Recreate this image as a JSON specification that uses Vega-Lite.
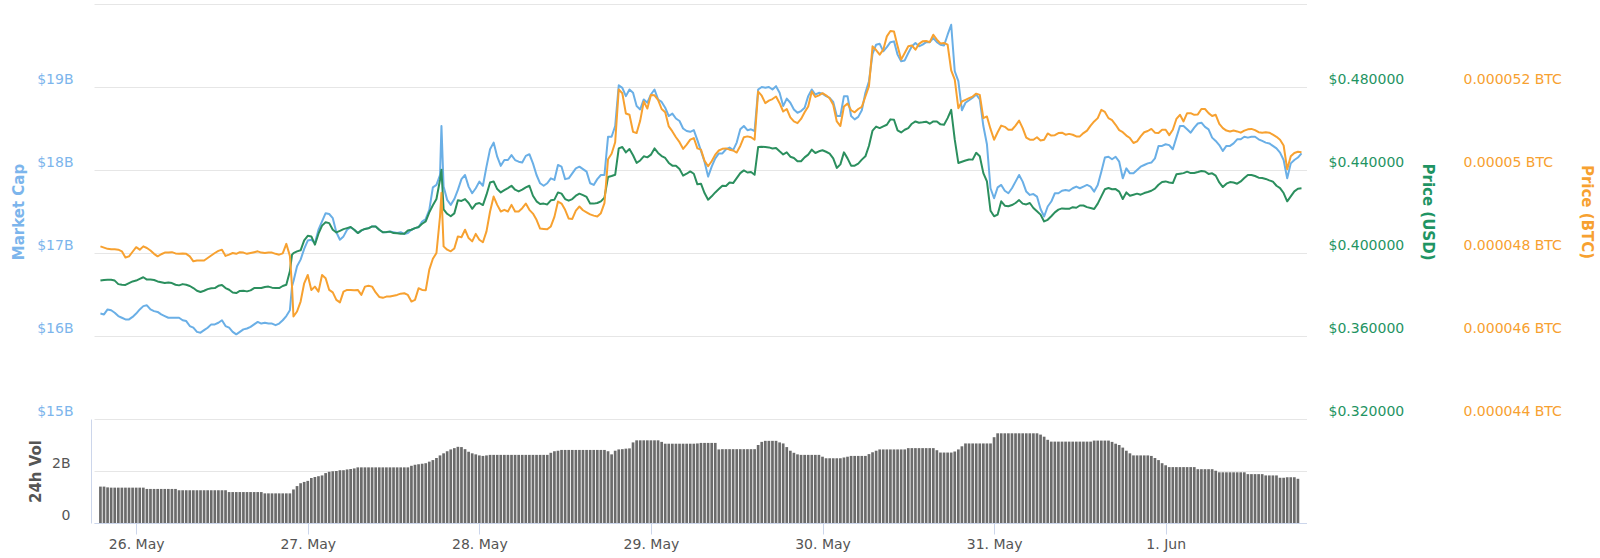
{
  "$schema": "https://vega.github.io/schema/vega-lite/v6.json",
  "width": 1212.5,
  "height": 519,
  "autosize": {"type": "none"},
  "padding": {"left": 94, "top": 4, "right": 293.5, "bottom": 35},
  "background": "white",
  "config": {"view": {"stroke": null}, "font": "DejaVu Sans"},
  "datasets": {
    "px": [
      {"t":"2019-05-25T19:00Z","mc":16.27,"usd":0.3867,"btc":0.00004816},
      {"t":"2019-05-25T19:30Z","mc":16.26,"usd":0.3870,"btc":0.00004813},
      {"t":"2019-05-25T20:00Z","mc":16.32,"usd":0.3871,"btc":0.00004810},
      {"t":"2019-05-25T20:30Z","mc":16.31,"usd":0.3871,"btc":0.00004809},
      {"t":"2019-05-25T21:00Z","mc":16.28,"usd":0.3867,"btc":0.00004809},
      {"t":"2019-05-25T21:30Z","mc":16.24,"usd":0.3850,"btc":0.00004808},
      {"t":"2019-05-25T22:00Z","mc":16.22,"usd":0.3847,"btc":0.00004804},
      {"t":"2019-05-25T22:30Z","mc":16.20,"usd":0.3846,"btc":0.00004789},
      {"t":"2019-05-25T23:00Z","mc":16.20,"usd":0.3855,"btc":0.00004792},
      {"t":"2019-05-25T23:30Z","mc":16.23,"usd":0.3863,"btc":0.00004803},
      {"t":"2019-05-26T00:00Z","mc":16.27,"usd":0.3867,"btc":0.00004814},
      {"t":"2019-05-26T00:30Z","mc":16.32,"usd":0.3875,"btc":0.00004808},
      {"t":"2019-05-26T01:00Z","mc":16.36,"usd":0.3883,"btc":0.00004816},
      {"t":"2019-05-26T01:30Z","mc":16.37,"usd":0.3872,"btc":0.00004812},
      {"t":"2019-05-26T02:00Z","mc":16.32,"usd":0.3872,"btc":0.00004806},
      {"t":"2019-05-26T02:30Z","mc":16.30,"usd":0.3870,"btc":0.00004798},
      {"t":"2019-05-26T03:00Z","mc":16.29,"usd":0.3863,"btc":0.00004792},
      {"t":"2019-05-26T03:30Z","mc":16.26,"usd":0.3859,"btc":0.00004797},
      {"t":"2019-05-26T04:00Z","mc":16.24,"usd":0.3855,"btc":0.00004801},
      {"t":"2019-05-26T04:30Z","mc":16.22,"usd":0.3858,"btc":0.00004801},
      {"t":"2019-05-26T05:00Z","mc":16.22,"usd":0.3855,"btc":0.00004802},
      {"t":"2019-05-26T05:30Z","mc":16.22,"usd":0.3847,"btc":0.00004799},
      {"t":"2019-05-26T06:00Z","mc":16.22,"usd":0.3844,"btc":0.00004798},
      {"t":"2019-05-26T06:30Z","mc":16.19,"usd":0.3850,"btc":0.00004799},
      {"t":"2019-05-26T07:00Z","mc":16.18,"usd":0.3847,"btc":0.00004798},
      {"t":"2019-05-26T07:30Z","mc":16.12,"usd":0.3841,"btc":0.00004792},
      {"t":"2019-05-26T08:00Z","mc":16.10,"usd":0.3831,"btc":0.00004780},
      {"t":"2019-05-26T08:30Z","mc":16.05,"usd":0.3818,"btc":0.00004782},
      {"t":"2019-05-26T09:00Z","mc":16.04,"usd":0.3812,"btc":0.00004782},
      {"t":"2019-05-26T09:30Z","mc":16.07,"usd":0.3818,"btc":0.00004782},
      {"t":"2019-05-26T10:00Z","mc":16.10,"usd":0.3826,"btc":0.00004788},
      {"t":"2019-05-26T10:30Z","mc":16.14,"usd":0.3830,"btc":0.00004794},
      {"t":"2019-05-26T11:00Z","mc":16.14,"usd":0.3831,"btc":0.00004800},
      {"t":"2019-05-26T11:30Z","mc":16.16,"usd":0.3842,"btc":0.00004805},
      {"t":"2019-05-26T12:00Z","mc":16.19,"usd":0.3846,"btc":0.00004808},
      {"t":"2019-05-26T12:30Z","mc":16.12,"usd":0.3831,"btc":0.00004793},
      {"t":"2019-05-26T13:00Z","mc":16.10,"usd":0.3823,"btc":0.00004796},
      {"t":"2019-05-26T13:30Z","mc":16.05,"usd":0.3810,"btc":0.00004800},
      {"t":"2019-05-26T14:00Z","mc":16.02,"usd":0.3807,"btc":0.00004798},
      {"t":"2019-05-26T14:30Z","mc":16.05,"usd":0.3817,"btc":0.00004802},
      {"t":"2019-05-26T15:00Z","mc":16.08,"usd":0.3818,"btc":0.00004801},
      {"t":"2019-05-26T15:30Z","mc":16.09,"usd":0.3815,"btc":0.00004798},
      {"t":"2019-05-26T16:00Z","mc":16.11,"usd":0.3820,"btc":0.00004800},
      {"t":"2019-05-26T16:30Z","mc":16.14,"usd":0.3831,"btc":0.00004802},
      {"t":"2019-05-26T17:00Z","mc":16.17,"usd":0.3831,"btc":0.00004804},
      {"t":"2019-05-26T17:30Z","mc":16.15,"usd":0.3831,"btc":0.00004801},
      {"t":"2019-05-26T18:00Z","mc":16.16,"usd":0.3836,"btc":0.00004800},
      {"t":"2019-05-26T18:30Z","mc":16.15,"usd":0.3838,"btc":0.00004801},
      {"t":"2019-05-26T19:00Z","mc":16.15,"usd":0.3833,"btc":0.00004801},
      {"t":"2019-05-26T19:30Z","mc":16.13,"usd":0.3831,"btc":0.00004798},
      {"t":"2019-05-26T20:00Z","mc":16.15,"usd":0.3831,"btc":0.00004796},
      {"t":"2019-05-26T20:30Z","mc":16.19,"usd":0.3841,"btc":0.00004799},
      {"t":"2019-05-26T21:00Z","mc":16.24,"usd":0.3847,"btc":0.00004822},
      {"t":"2019-05-26T21:30Z","mc":16.31,"usd":0.3912,"btc":0.00004793},
      {"t":"2019-05-26T21:48Z","mc":16.60,"usd":0.3992,"btc":0.00004719},
      {"t":"2019-05-26T22:00Z","mc":16.66,"usd":0.3999,"btc":0.00004647},
      {"t":"2019-05-26T22:30Z","mc":16.84,"usd":0.4008,"btc":0.00004659},
      {"t":"2019-05-26T23:00Z","mc":16.92,"usd":0.4013,"btc":0.00004683},
      {"t":"2019-05-26T23:30Z","mc":17.05,"usd":0.4061,"btc":0.00004727},
      {"t":"2019-05-27T00:00Z","mc":17.15,"usd":0.4083,"btc":0.00004747},
      {"t":"2019-05-27T00:30Z","mc":17.16,"usd":0.4080,"btc":0.00004711},
      {"t":"2019-05-27T01:00Z","mc":17.12,"usd":0.4040,"btc":0.00004719},
      {"t":"2019-05-27T01:30Z","mc":17.28,"usd":0.4093,"btc":0.00004707},
      {"t":"2019-05-27T02:00Z","mc":17.38,"usd":0.4132,"btc":0.00004747},
      {"t":"2019-05-27T02:30Z","mc":17.48,"usd":0.4148,"btc":0.00004739},
      {"t":"2019-05-27T03:00Z","mc":17.47,"usd":0.4144,"btc":0.00004711},
      {"t":"2019-05-27T03:30Z","mc":17.42,"usd":0.4112,"btc":0.00004705},
      {"t":"2019-05-27T04:00Z","mc":17.25,"usd":0.4099,"btc":0.00004687},
      {"t":"2019-05-27T04:30Z","mc":17.16,"usd":0.4107,"btc":0.00004681},
      {"t":"2019-05-27T05:00Z","mc":17.20,"usd":0.4115,"btc":0.00004707},
      {"t":"2019-05-27T05:30Z","mc":17.28,"usd":0.4120,"btc":0.00004711},
      {"t":"2019-05-27T06:00Z","mc":17.31,"usd":0.4125,"btc":0.00004711},
      {"t":"2019-05-27T06:30Z","mc":17.28,"usd":0.4112,"btc":0.00004710},
      {"t":"2019-05-27T07:00Z","mc":17.24,"usd":0.4096,"btc":0.00004711},
      {"t":"2019-05-27T07:30Z","mc":17.27,"usd":0.4109,"btc":0.00004699},
      {"t":"2019-05-27T08:00Z","mc":17.29,"usd":0.4116,"btc":0.00004719},
      {"t":"2019-05-27T08:30Z","mc":17.30,"usd":0.4119,"btc":0.00004721},
      {"t":"2019-05-27T09:00Z","mc":17.32,"usd":0.4128,"btc":0.00004719},
      {"t":"2019-05-27T09:30Z","mc":17.32,"usd":0.4128,"btc":0.00004705},
      {"t":"2019-05-27T10:00Z","mc":17.28,"usd":0.4112,"btc":0.00004694},
      {"t":"2019-05-27T10:30Z","mc":17.25,"usd":0.4100,"btc":0.00004692},
      {"t":"2019-05-27T11:00Z","mc":17.25,"usd":0.4101,"btc":0.00004695},
      {"t":"2019-05-27T11:30Z","mc":17.26,"usd":0.4103,"btc":0.00004695},
      {"t":"2019-05-27T12:00Z","mc":17.25,"usd":0.4096,"btc":0.00004697},
      {"t":"2019-05-27T12:30Z","mc":17.24,"usd":0.4095,"btc":0.00004699},
      {"t":"2019-05-27T13:00Z","mc":17.25,"usd":0.4093,"btc":0.00004702},
      {"t":"2019-05-27T13:30Z","mc":17.23,"usd":0.4093,"btc":0.00004703},
      {"t":"2019-05-27T14:00Z","mc":17.24,"usd":0.4108,"btc":0.00004699},
      {"t":"2019-05-27T14:30Z","mc":17.28,"usd":0.4112,"btc":0.00004683},
      {"t":"2019-05-27T15:00Z","mc":17.30,"usd":0.4120,"btc":0.00004687},
      {"t":"2019-05-27T15:30Z","mc":17.31,"usd":0.4125,"btc":0.00004715},
      {"t":"2019-05-27T16:00Z","mc":17.38,"usd":0.4141,"btc":0.00004711},
      {"t":"2019-05-27T16:30Z","mc":17.41,"usd":0.4152,"btc":0.00004710},
      {"t":"2019-05-27T17:00Z","mc":17.52,"usd":0.4196,"btc":0.00004760},
      {"t":"2019-05-27T17:30Z","mc":17.79,"usd":0.4230,"btc":0.00004786},
      {"t":"2019-05-27T18:00Z","mc":17.82,"usd":0.4260,"btc":0.00004800},
      {"t":"2019-05-27T18:30Z","mc":17.94,"usd":0.4353,"btc":0.00004888},
      {"t":"2019-05-27T18:42Z","mc":18.53,"usd":0.4401,"btc":0.00004945},
      {"t":"2019-05-27T19:00Z","mc":17.80,"usd":0.4210,"btc":0.00004816},
      {"t":"2019-05-27T19:30Z","mc":17.64,"usd":0.4189,"btc":0.00004808},
      {"t":"2019-05-27T20:00Z","mc":17.58,"usd":0.4177,"btc":0.00004804},
      {"t":"2019-05-27T20:30Z","mc":17.65,"usd":0.4191,"btc":0.00004811},
      {"t":"2019-05-27T21:00Z","mc":17.76,"usd":0.4254,"btc":0.00004840},
      {"t":"2019-05-27T21:30Z","mc":17.89,"usd":0.4251,"btc":0.00004838},
      {"t":"2019-05-27T22:00Z","mc":17.94,"usd":0.4260,"btc":0.00004856},
      {"t":"2019-05-27T22:30Z","mc":17.80,"usd":0.4241,"btc":0.00004836},
      {"t":"2019-05-27T23:00Z","mc":17.72,"usd":0.4213,"btc":0.00004828},
      {"t":"2019-05-27T23:30Z","mc":17.78,"usd":0.4236,"btc":0.00004846},
      {"t":"2019-05-28T00:00Z","mc":17.86,"usd":0.4241,"btc":0.00004832},
      {"t":"2019-05-28T00:30Z","mc":17.81,"usd":0.4231,"btc":0.00004826},
      {"t":"2019-05-28T01:00Z","mc":18.04,"usd":0.4281,"btc":0.00004852},
      {"t":"2019-05-28T01:30Z","mc":18.25,"usd":0.4340,"btc":0.00004900},
      {"t":"2019-05-28T02:00Z","mc":18.33,"usd":0.4345,"btc":0.00004936},
      {"t":"2019-05-28T02:30Z","mc":18.16,"usd":0.4308,"btc":0.00004916},
      {"t":"2019-05-28T03:00Z","mc":18.05,"usd":0.4292,"btc":0.00004900},
      {"t":"2019-05-28T03:30Z","mc":18.12,"usd":0.4303,"btc":0.00004904},
      {"t":"2019-05-28T04:00Z","mc":18.12,"usd":0.4313,"btc":0.00004900},
      {"t":"2019-05-28T04:30Z","mc":18.18,"usd":0.4324,"btc":0.00004916},
      {"t":"2019-05-28T05:00Z","mc":18.12,"usd":0.4305,"btc":0.00004900},
      {"t":"2019-05-28T05:30Z","mc":18.10,"usd":0.4297,"btc":0.00004900},
      {"t":"2019-05-28T06:00Z","mc":18.09,"usd":0.4305,"btc":0.00004908},
      {"t":"2019-05-28T06:30Z","mc":18.17,"usd":0.4316,"btc":0.00004919},
      {"t":"2019-05-28T07:00Z","mc":18.19,"usd":0.4324,"btc":0.00004904},
      {"t":"2019-05-28T07:30Z","mc":18.08,"usd":0.4276,"btc":0.00004895},
      {"t":"2019-05-28T08:00Z","mc":17.94,"usd":0.4249,"btc":0.00004880},
      {"t":"2019-05-28T08:30Z","mc":17.84,"usd":0.4236,"btc":0.00004859},
      {"t":"2019-05-28T09:00Z","mc":17.81,"usd":0.4238,"btc":0.00004858},
      {"t":"2019-05-28T09:30Z","mc":17.84,"usd":0.4234,"btc":0.00004857},
      {"t":"2019-05-28T10:00Z","mc":17.90,"usd":0.4254,"btc":0.00004864},
      {"t":"2019-05-28T10:30Z","mc":17.88,"usd":0.4257,"btc":0.00004887},
      {"t":"2019-05-28T11:00Z","mc":18.06,"usd":0.4292,"btc":0.00004924},
      {"t":"2019-05-28T11:30Z","mc":18.04,"usd":0.4286,"btc":0.00004919},
      {"t":"2019-05-28T12:00Z","mc":17.89,"usd":0.4260,"btc":0.00004904},
      {"t":"2019-05-28T12:30Z","mc":17.90,"usd":0.4252,"btc":0.00004883},
      {"t":"2019-05-28T13:00Z","mc":17.96,"usd":0.4260,"btc":0.00004882},
      {"t":"2019-05-28T13:30Z","mc":18.02,"usd":0.4276,"btc":0.00004902},
      {"t":"2019-05-28T14:00Z","mc":18.04,"usd":0.4286,"btc":0.00004912},
      {"t":"2019-05-28T14:30Z","mc":18.01,"usd":0.4279,"btc":0.00004903},
      {"t":"2019-05-28T15:00Z","mc":17.98,"usd":0.4270,"btc":0.00004898},
      {"t":"2019-05-28T15:30Z","mc":17.84,"usd":0.4238,"btc":0.00004893},
      {"t":"2019-05-28T16:00Z","mc":17.82,"usd":0.4238,"btc":0.00004890},
      {"t":"2019-05-28T16:30Z","mc":17.89,"usd":0.4241,"btc":0.00004888},
      {"t":"2019-05-28T17:00Z","mc":17.94,"usd":0.4249,"btc":0.00004896},
      {"t":"2019-05-28T17:30Z","mc":17.94,"usd":0.4267,"btc":0.00004920},
      {"t":"2019-05-28T18:00Z","mc":18.40,"usd":0.4366,"btc":0.00005026},
      {"t":"2019-05-28T18:30Z","mc":18.40,"usd":0.4371,"btc":0.00005039},
      {"t":"2019-05-28T19:00Z","mc":18.53,"usd":0.4377,"btc":0.00005067},
      {"t":"2019-05-28T19:30Z","mc":19.02,"usd":0.4504,"btc":0.00005194},
      {"t":"2019-05-28T20:00Z","mc":18.99,"usd":0.4511,"btc":0.00005185},
      {"t":"2019-05-28T20:30Z","mc":18.89,"usd":0.4485,"btc":0.00005136},
      {"t":"2019-05-28T21:00Z","mc":18.97,"usd":0.4501,"btc":0.00005133},
      {"t":"2019-05-28T21:30Z","mc":18.93,"usd":0.4471,"btc":0.00005092},
      {"t":"2019-05-28T22:00Z","mc":18.77,"usd":0.4434,"btc":0.00005089},
      {"t":"2019-05-28T22:30Z","mc":18.73,"usd":0.4446,"btc":0.00005119},
      {"t":"2019-05-28T23:00Z","mc":18.85,"usd":0.4466,"btc":0.00005165},
      {"t":"2019-05-28T23:30Z","mc":18.81,"usd":0.4461,"btc":0.00005148},
      {"t":"2019-05-29T00:00Z","mc":18.91,"usd":0.4474,"btc":0.00005181},
      {"t":"2019-05-29T00:30Z","mc":18.97,"usd":0.4504,"btc":0.00005180},
      {"t":"2019-05-29T01:00Z","mc":18.85,"usd":0.4482,"btc":0.00005169},
      {"t":"2019-05-29T01:30Z","mc":18.82,"usd":0.4467,"btc":0.00005147},
      {"t":"2019-05-29T02:00Z","mc":18.75,"usd":0.4458,"btc":0.00005139},
      {"t":"2019-05-29T02:30Z","mc":18.65,"usd":0.4434,"btc":0.00005105},
      {"t":"2019-05-29T03:00Z","mc":18.68,"usd":0.4421,"btc":0.00005093},
      {"t":"2019-05-29T03:30Z","mc":18.62,"usd":0.4421,"btc":0.00005079},
      {"t":"2019-05-29T04:00Z","mc":18.59,"usd":0.4405,"btc":0.00005067},
      {"t":"2019-05-29T04:30Z","mc":18.50,"usd":0.4373,"btc":0.00005051},
      {"t":"2019-05-29T05:00Z","mc":18.47,"usd":0.4382,"btc":0.00005061},
      {"t":"2019-05-29T05:30Z","mc":18.46,"usd":0.4393,"btc":0.00005073},
      {"t":"2019-05-29T06:00Z","mc":18.48,"usd":0.4382,"btc":0.00005077},
      {"t":"2019-05-29T06:30Z","mc":18.36,"usd":0.4331,"btc":0.00005052},
      {"t":"2019-05-29T07:00Z","mc":18.23,"usd":0.4334,"btc":0.00005049},
      {"t":"2019-05-29T07:30Z","mc":18.10,"usd":0.4289,"btc":0.00005022},
      {"t":"2019-05-29T08:00Z","mc":17.92,"usd":0.4257,"btc":0.00005009},
      {"t":"2019-05-29T08:30Z","mc":18.04,"usd":0.4273,"btc":0.00005021},
      {"t":"2019-05-29T09:00Z","mc":18.14,"usd":0.4292,"btc":0.00005037},
      {"t":"2019-05-29T09:30Z","mc":18.20,"usd":0.4308,"btc":0.00005047},
      {"t":"2019-05-29T10:00Z","mc":18.20,"usd":0.4324,"btc":0.00005051},
      {"t":"2019-05-29T10:30Z","mc":18.25,"usd":0.4323,"btc":0.00005052},
      {"t":"2019-05-29T11:00Z","mc":18.27,"usd":0.4340,"btc":0.00005049},
      {"t":"2019-05-29T11:30Z","mc":18.24,"usd":0.4337,"btc":0.00005047},
      {"t":"2019-05-29T12:00Z","mc":18.33,"usd":0.4361,"btc":0.00005042},
      {"t":"2019-05-29T12:30Z","mc":18.49,"usd":0.4385,"btc":0.00005058},
      {"t":"2019-05-29T13:00Z","mc":18.53,"usd":0.4398,"btc":0.00005079},
      {"t":"2019-05-29T13:30Z","mc":18.48,"usd":0.4388,"btc":0.00005081},
      {"t":"2019-05-29T14:00Z","mc":18.49,"usd":0.4390,"btc":0.00005079},
      {"t":"2019-05-29T14:30Z","mc":18.47,"usd":0.4377,"btc":0.00005073},
      {"t":"2019-05-29T15:00Z","mc":18.97,"usd":0.4511,"btc":0.00005189},
      {"t":"2019-05-29T15:30Z","mc":19.00,"usd":0.4512,"btc":0.00005179},
      {"t":"2019-05-29T16:00Z","mc":18.99,"usd":0.4511,"btc":0.00005161},
      {"t":"2019-05-29T16:30Z","mc":19.00,"usd":0.4509,"btc":0.00005167},
      {"t":"2019-05-29T17:00Z","mc":18.97,"usd":0.4504,"btc":0.00005171},
      {"t":"2019-05-29T17:30Z","mc":19.01,"usd":0.4506,"btc":0.00005177},
      {"t":"2019-05-29T18:00Z","mc":18.93,"usd":0.4490,"btc":0.00005161},
      {"t":"2019-05-29T18:30Z","mc":18.77,"usd":0.4475,"btc":0.00005141},
      {"t":"2019-05-29T19:00Z","mc":18.86,"usd":0.4485,"btc":0.00005147},
      {"t":"2019-05-29T19:30Z","mc":18.81,"usd":0.4464,"btc":0.00005127},
      {"t":"2019-05-29T20:00Z","mc":18.73,"usd":0.4458,"btc":0.00005117},
      {"t":"2019-05-29T20:30Z","mc":18.69,"usd":0.4442,"btc":0.00005113},
      {"t":"2019-05-29T21:00Z","mc":18.71,"usd":0.4442,"btc":0.00005123},
      {"t":"2019-05-29T21:30Z","mc":18.75,"usd":0.4461,"btc":0.00005139},
      {"t":"2019-05-29T22:00Z","mc":18.89,"usd":0.4474,"btc":0.00005153},
      {"t":"2019-05-29T22:30Z","mc":18.97,"usd":0.4498,"btc":0.00005189},
      {"t":"2019-05-29T23:00Z","mc":18.91,"usd":0.4482,"btc":0.00005176},
      {"t":"2019-05-29T23:30Z","mc":18.93,"usd":0.4490,"btc":0.00005180},
      {"t":"2019-05-30T00:00Z","mc":18.92,"usd":0.4495,"btc":0.00005185},
      {"t":"2019-05-30T00:30Z","mc":18.89,"usd":0.4488,"btc":0.00005180},
      {"t":"2019-05-30T01:00Z","mc":18.87,"usd":0.4479,"btc":0.00005173},
      {"t":"2019-05-30T01:30Z","mc":18.82,"usd":0.4456,"btc":0.00005157},
      {"t":"2019-05-30T02:00Z","mc":18.65,"usd":0.4410,"btc":0.00005117},
      {"t":"2019-05-30T02:30Z","mc":18.65,"usd":0.4427,"btc":0.00005106},
      {"t":"2019-05-30T03:00Z","mc":18.89,"usd":0.4485,"btc":0.00005153},
      {"t":"2019-05-30T03:30Z","mc":18.89,"usd":0.4456,"btc":0.00005160},
      {"t":"2019-05-30T04:00Z","mc":18.65,"usd":0.4421,"btc":0.00005144},
      {"t":"2019-05-30T04:30Z","mc":18.61,"usd":0.4421,"btc":0.00005139},
      {"t":"2019-05-30T05:00Z","mc":18.64,"usd":0.4431,"btc":0.00005147},
      {"t":"2019-05-30T05:30Z","mc":18.72,"usd":0.4450,"btc":0.00005152},
      {"t":"2019-05-30T06:00Z","mc":18.93,"usd":0.4466,"btc":0.00005177},
      {"t":"2019-05-30T06:30Z","mc":19.07,"usd":0.4517,"btc":0.00005202},
      {"t":"2019-05-30T07:00Z","mc":19.40,"usd":0.4590,"btc":0.00005298},
      {"t":"2019-05-30T07:30Z","mc":19.51,"usd":0.4609,"btc":0.00005289},
      {"t":"2019-05-30T08:00Z","mc":19.52,"usd":0.4602,"btc":0.00005278},
      {"t":"2019-05-30T08:30Z","mc":19.43,"usd":0.4610,"btc":0.00005290},
      {"t":"2019-05-30T09:00Z","mc":19.48,"usd":0.4618,"btc":0.00005322},
      {"t":"2019-05-30T09:30Z","mc":19.54,"usd":0.4644,"btc":0.00005335},
      {"t":"2019-05-30T10:00Z","mc":19.55,"usd":0.4642,"btc":0.00005334},
      {"t":"2019-05-30T10:30Z","mc":19.39,"usd":0.4591,"btc":0.00005299},
      {"t":"2019-05-30T11:00Z","mc":19.31,"usd":0.4581,"btc":0.00005266},
      {"t":"2019-05-30T11:30Z","mc":19.32,"usd":0.4594,"btc":0.00005282},
      {"t":"2019-05-30T12:00Z","mc":19.41,"usd":0.4602,"btc":0.00005298},
      {"t":"2019-05-30T12:30Z","mc":19.49,"usd":0.4623,"btc":0.00005300},
      {"t":"2019-05-30T13:00Z","mc":19.53,"usd":0.4634,"btc":0.00005290},
      {"t":"2019-05-30T13:30Z","mc":19.49,"usd":0.4628,"btc":0.00005304},
      {"t":"2019-05-30T14:00Z","mc":19.51,"usd":0.4630,"btc":0.00005310},
      {"t":"2019-05-30T14:30Z","mc":19.54,"usd":0.4633,"btc":0.00005311},
      {"t":"2019-05-30T15:00Z","mc":19.54,"usd":0.4623,"btc":0.00005308},
      {"t":"2019-05-30T15:30Z","mc":19.59,"usd":0.4634,"btc":0.00005326},
      {"t":"2019-05-30T16:00Z","mc":19.54,"usd":0.4634,"btc":0.00005314},
      {"t":"2019-05-30T16:30Z","mc":19.51,"usd":0.4620,"btc":0.00005305},
      {"t":"2019-05-30T17:00Z","mc":19.50,"usd":0.4618,"btc":0.00005306},
      {"t":"2019-05-30T17:30Z","mc":19.63,"usd":0.4650,"btc":0.00005302},
      {"t":"2019-05-30T18:00Z","mc":19.75,"usd":0.4690,"btc":0.00005240},
      {"t":"2019-05-30T18:30Z","mc":19.19,"usd":0.4546,"btc":0.00005218},
      {"t":"2019-05-30T19:00Z","mc":19.07,"usd":0.4434,"btc":0.00005149},
      {"t":"2019-05-30T19:30Z","mc":18.72,"usd":0.4440,"btc":0.00005165},
      {"t":"2019-05-30T20:00Z","mc":18.81,"usd":0.4446,"btc":0.00005169},
      {"t":"2019-05-30T20:30Z","mc":18.84,"usd":0.4451,"btc":0.00005173},
      {"t":"2019-05-30T21:00Z","mc":18.87,"usd":0.4450,"btc":0.00005177},
      {"t":"2019-05-30T21:30Z","mc":18.91,"usd":0.4483,"btc":0.00005184},
      {"t":"2019-05-30T22:00Z","mc":18.85,"usd":0.4466,"btc":0.00005181},
      {"t":"2019-05-30T22:30Z","mc":18.53,"usd":0.4385,"btc":0.00005125},
      {"t":"2019-05-30T23:00Z","mc":18.31,"usd":0.4345,"btc":0.00005129},
      {"t":"2019-05-30T23:30Z","mc":17.78,"usd":0.4204,"btc":0.00005099},
      {"t":"2019-05-31T00:00Z","mc":17.66,"usd":0.4177,"btc":0.00005073},
      {"t":"2019-05-31T00:30Z","mc":17.79,"usd":0.4185,"btc":0.00005091},
      {"t":"2019-05-31T01:00Z","mc":17.82,"usd":0.4249,"btc":0.00005107},
      {"t":"2019-05-31T01:30Z","mc":17.75,"usd":0.4228,"btc":0.00005104},
      {"t":"2019-05-31T02:00Z","mc":17.72,"usd":0.4225,"btc":0.00005097},
      {"t":"2019-05-31T02:30Z","mc":17.78,"usd":0.4231,"btc":0.00005097},
      {"t":"2019-05-31T03:00Z","mc":17.86,"usd":0.4241,"btc":0.00005107},
      {"t":"2019-05-31T03:30Z","mc":17.94,"usd":0.4255,"btc":0.00005119},
      {"t":"2019-05-31T04:00Z","mc":17.86,"usd":0.4238,"btc":0.00005101},
      {"t":"2019-05-31T04:30Z","mc":17.74,"usd":0.4234,"btc":0.00005078},
      {"t":"2019-05-31T05:00Z","mc":17.70,"usd":0.4241,"btc":0.00005073},
      {"t":"2019-05-31T05:30Z","mc":17.71,"usd":0.4217,"btc":0.00005073},
      {"t":"2019-05-31T06:00Z","mc":17.68,"usd":0.4201,"btc":0.00005079},
      {"t":"2019-05-31T06:30Z","mc":17.53,"usd":0.4185,"btc":0.00005071},
      {"t":"2019-05-31T07:00Z","mc":17.44,"usd":0.4152,"btc":0.00005073},
      {"t":"2019-05-31T07:30Z","mc":17.56,"usd":0.4160,"btc":0.00005088},
      {"t":"2019-05-31T08:00Z","mc":17.62,"usd":0.4177,"btc":0.00005083},
      {"t":"2019-05-31T08:30Z","mc":17.72,"usd":0.4196,"btc":0.00005084},
      {"t":"2019-05-31T09:00Z","mc":17.72,"usd":0.4209,"btc":0.00005089},
      {"t":"2019-05-31T09:30Z","mc":17.75,"usd":0.4215,"btc":0.00005090},
      {"t":"2019-05-31T10:00Z","mc":17.76,"usd":0.4213,"btc":0.00005085},
      {"t":"2019-05-31T10:30Z","mc":17.75,"usd":0.4213,"btc":0.00005087},
      {"t":"2019-05-31T11:00Z","mc":17.78,"usd":0.4221,"btc":0.00005085},
      {"t":"2019-05-31T11:30Z","mc":17.80,"usd":0.4218,"btc":0.00005081},
      {"t":"2019-05-31T12:00Z","mc":17.78,"usd":0.4229,"btc":0.00005081},
      {"t":"2019-05-31T12:30Z","mc":17.80,"usd":0.4229,"btc":0.00005089},
      {"t":"2019-05-31T13:00Z","mc":17.82,"usd":0.4221,"btc":0.00005095},
      {"t":"2019-05-31T13:30Z","mc":17.80,"usd":0.4217,"btc":0.00005107},
      {"t":"2019-05-31T14:00Z","mc":17.74,"usd":0.4212,"btc":0.00005117},
      {"t":"2019-05-31T14:30Z","mc":17.82,"usd":0.4238,"btc":0.00005125},
      {"t":"2019-05-31T15:00Z","mc":17.98,"usd":0.4273,"btc":0.00005145},
      {"t":"2019-05-31T15:30Z","mc":18.15,"usd":0.4307,"btc":0.00005140},
      {"t":"2019-05-31T16:00Z","mc":18.16,"usd":0.4313,"btc":0.00005125},
      {"t":"2019-05-31T16:30Z","mc":18.13,"usd":0.4307,"btc":0.00005120},
      {"t":"2019-05-31T17:00Z","mc":18.16,"usd":0.4308,"btc":0.00005109},
      {"t":"2019-05-31T17:30Z","mc":18.10,"usd":0.4296,"btc":0.00005096},
      {"t":"2019-05-31T18:00Z","mc":17.90,"usd":0.4260,"btc":0.00005091},
      {"t":"2019-05-31T18:30Z","mc":18.02,"usd":0.4292,"btc":0.00005083},
      {"t":"2019-05-31T19:00Z","mc":17.96,"usd":0.4276,"btc":0.00005077},
      {"t":"2019-05-31T19:30Z","mc":17.96,"usd":0.4281,"btc":0.00005065},
      {"t":"2019-05-31T20:00Z","mc":18.00,"usd":0.4286,"btc":0.00005069},
      {"t":"2019-05-31T20:30Z","mc":18.04,"usd":0.4281,"btc":0.00005081},
      {"t":"2019-05-31T21:00Z","mc":18.06,"usd":0.4289,"btc":0.00005091},
      {"t":"2019-05-31T21:30Z","mc":18.08,"usd":0.4294,"btc":0.00005094},
      {"t":"2019-05-31T22:00Z","mc":18.09,"usd":0.4300,"btc":0.00005099},
      {"t":"2019-05-31T22:30Z","mc":18.14,"usd":0.4310,"btc":0.00005090},
      {"t":"2019-05-31T23:00Z","mc":18.29,"usd":0.4329,"btc":0.00005089},
      {"t":"2019-05-31T23:30Z","mc":18.29,"usd":0.4342,"btc":0.00005097},
      {"t":"2019-06-01T00:00Z","mc":18.31,"usd":0.4345,"btc":0.00005097},
      {"t":"2019-06-01T00:30Z","mc":18.30,"usd":0.4340,"btc":0.00005084},
      {"t":"2019-06-01T01:00Z","mc":18.25,"usd":0.4337,"btc":0.00005097},
      {"t":"2019-06-01T01:30Z","mc":18.39,"usd":0.4379,"btc":0.00005123},
      {"t":"2019-06-01T02:00Z","mc":18.53,"usd":0.4382,"btc":0.00005133},
      {"t":"2019-06-01T02:30Z","mc":18.53,"usd":0.4385,"btc":0.00005117},
      {"t":"2019-06-01T03:00Z","mc":18.49,"usd":0.4392,"btc":0.00005137},
      {"t":"2019-06-01T03:30Z","mc":18.45,"usd":0.4385,"btc":0.00005137},
      {"t":"2019-06-01T04:00Z","mc":18.51,"usd":0.4386,"btc":0.00005133},
      {"t":"2019-06-01T04:30Z","mc":18.56,"usd":0.4390,"btc":0.00005134},
      {"t":"2019-06-01T05:00Z","mc":18.57,"usd":0.4395,"btc":0.00005147},
      {"t":"2019-06-01T05:30Z","mc":18.52,"usd":0.4393,"btc":0.00005147},
      {"t":"2019-06-01T06:00Z","mc":18.49,"usd":0.4381,"btc":0.00005137},
      {"t":"2019-06-01T06:30Z","mc":18.39,"usd":0.4384,"btc":0.00005130},
      {"t":"2019-06-01T07:00Z","mc":18.35,"usd":0.4373,"btc":0.00005133},
      {"t":"2019-06-01T07:30Z","mc":18.30,"usd":0.4340,"btc":0.00005111},
      {"t":"2019-06-01T08:00Z","mc":18.23,"usd":0.4318,"btc":0.00005101},
      {"t":"2019-06-01T08:30Z","mc":18.29,"usd":0.4334,"btc":0.00005095},
      {"t":"2019-06-01T09:00Z","mc":18.29,"usd":0.4342,"btc":0.00005093},
      {"t":"2019-06-01T09:30Z","mc":18.32,"usd":0.4340,"btc":0.00005095},
      {"t":"2019-06-01T10:00Z","mc":18.37,"usd":0.4334,"btc":0.00005093},
      {"t":"2019-06-01T10:30Z","mc":18.37,"usd":0.4345,"btc":0.00005090},
      {"t":"2019-06-01T11:00Z","mc":18.40,"usd":0.4361,"btc":0.00005095},
      {"t":"2019-06-01T11:30Z","mc":18.39,"usd":0.4376,"btc":0.00005098},
      {"t":"2019-06-01T12:00Z","mc":18.40,"usd":0.4376,"btc":0.00005099},
      {"t":"2019-06-01T12:30Z","mc":18.40,"usd":0.4371,"btc":0.00005096},
      {"t":"2019-06-01T13:00Z","mc":18.37,"usd":0.4363,"btc":0.00005091},
      {"t":"2019-06-01T13:30Z","mc":18.35,"usd":0.4361,"btc":0.00005090},
      {"t":"2019-06-01T14:00Z","mc":18.33,"usd":0.4357,"btc":0.00005091},
      {"t":"2019-06-01T14:30Z","mc":18.32,"usd":0.4350,"btc":0.00005090},
      {"t":"2019-06-01T15:00Z","mc":18.29,"usd":0.4344,"btc":0.00005085},
      {"t":"2019-06-01T15:30Z","mc":18.26,"usd":0.4324,"btc":0.00005080},
      {"t":"2019-06-01T16:00Z","mc":18.21,"usd":0.4313,"btc":0.00005073},
      {"t":"2019-06-01T16:30Z","mc":18.12,"usd":0.4289,"btc":0.00005059},
      {"t":"2019-06-01T17:00Z","mc":17.90,"usd":0.4249,"btc":0.00005002},
      {"t":"2019-06-01T17:30Z","mc":18.08,"usd":0.4273,"btc":0.00005033},
      {"t":"2019-06-01T18:00Z","mc":18.12,"usd":0.4297,"btc":0.00005041},
      {"t":"2019-06-01T18:30Z","mc":18.15,"usd":0.4310,"btc":0.00005044},
      {"t":"2019-06-01T19:00Z","mc":18.20,"usd":0.4312,"btc":0.00005043}
    ],
    "vol": [
      {"t":"2019-05-25T19:00Z","v":1.40},{"t":"2019-05-25T19:30Z","v":1.40},{"t":"2019-05-25T20:00Z","v":1.37},{"t":"2019-05-25T20:30Z","v":1.36},
      {"t":"2019-05-25T21:00Z","v":1.36},{"t":"2019-05-25T21:30Z","v":1.36},{"t":"2019-05-25T22:00Z","v":1.36},{"t":"2019-05-25T22:30Z","v":1.36},
      {"t":"2019-05-25T23:00Z","v":1.36},{"t":"2019-05-25T23:30Z","v":1.36},
      {"t":"2019-05-26T00:00Z","v":1.36},{"t":"2019-05-26T00:30Z","v":1.36},{"t":"2019-05-26T01:00Z","v":1.36},{"t":"2019-05-26T01:30Z","v":1.31},
      {"t":"2019-05-26T02:00Z","v":1.31},{"t":"2019-05-26T02:30Z","v":1.31},{"t":"2019-05-26T03:00Z","v":1.31},{"t":"2019-05-26T03:30Z","v":1.31},
      {"t":"2019-05-26T04:00Z","v":1.31},{"t":"2019-05-26T04:30Z","v":1.31},{"t":"2019-05-26T05:00Z","v":1.31},{"t":"2019-05-26T05:30Z","v":1.31},
      {"t":"2019-05-26T06:00Z","v":1.26},{"t":"2019-05-26T06:30Z","v":1.26},{"t":"2019-05-26T07:00Z","v":1.26},{"t":"2019-05-26T07:30Z","v":1.26},
      {"t":"2019-05-26T08:00Z","v":1.26},{"t":"2019-05-26T08:30Z","v":1.26},{"t":"2019-05-26T09:00Z","v":1.26},{"t":"2019-05-26T09:30Z","v":1.26},
      {"t":"2019-05-26T10:00Z","v":1.26},{"t":"2019-05-26T10:30Z","v":1.26},{"t":"2019-05-26T11:00Z","v":1.26},{"t":"2019-05-26T11:30Z","v":1.26},
      {"t":"2019-05-26T12:00Z","v":1.26},{"t":"2019-05-26T12:30Z","v":1.26},{"t":"2019-05-26T13:00Z","v":1.19},{"t":"2019-05-26T13:30Z","v":1.19},
      {"t":"2019-05-26T14:00Z","v":1.19},{"t":"2019-05-26T14:30Z","v":1.19},{"t":"2019-05-26T15:00Z","v":1.19},{"t":"2019-05-26T15:30Z","v":1.19},
      {"t":"2019-05-26T16:00Z","v":1.19},{"t":"2019-05-26T16:30Z","v":1.19},{"t":"2019-05-26T17:00Z","v":1.19},{"t":"2019-05-26T17:30Z","v":1.19},
      {"t":"2019-05-26T18:00Z","v":1.14},{"t":"2019-05-26T18:30Z","v":1.14},{"t":"2019-05-26T19:00Z","v":1.14},{"t":"2019-05-26T19:30Z","v":1.14},
      {"t":"2019-05-26T20:00Z","v":1.14},{"t":"2019-05-26T20:30Z","v":1.14},{"t":"2019-05-26T21:00Z","v":1.14},{"t":"2019-05-26T21:30Z","v":1.14},
      {"t":"2019-05-26T22:00Z","v":1.29},{"t":"2019-05-26T22:30Z","v":1.42},{"t":"2019-05-26T23:00Z","v":1.53},{"t":"2019-05-26T23:30Z","v":1.58},
      {"t":"2019-05-27T00:00Z","v":1.62},{"t":"2019-05-27T00:30Z","v":1.73},{"t":"2019-05-27T01:00Z","v":1.77},{"t":"2019-05-27T01:30Z","v":1.80},
      {"t":"2019-05-27T02:00Z","v":1.83},{"t":"2019-05-27T02:30Z","v":1.92},{"t":"2019-05-27T03:00Z","v":1.97},{"t":"2019-05-27T03:30Z","v":1.99},
      {"t":"2019-05-27T04:00Z","v":2.00},{"t":"2019-05-27T04:30Z","v":2.03},{"t":"2019-05-27T05:00Z","v":2.03},{"t":"2019-05-27T05:30Z","v":2.06},
      {"t":"2019-05-27T06:00Z","v":2.08},{"t":"2019-05-27T06:30Z","v":2.10},{"t":"2019-05-27T07:00Z","v":2.14},{"t":"2019-05-27T07:30Z","v":2.14},
      {"t":"2019-05-27T08:00Z","v":2.14},{"t":"2019-05-27T08:30Z","v":2.14},{"t":"2019-05-27T09:00Z","v":2.14},{"t":"2019-05-27T09:30Z","v":2.14},
      {"t":"2019-05-27T10:00Z","v":2.14},{"t":"2019-05-27T10:30Z","v":2.14},{"t":"2019-05-27T11:00Z","v":2.14},{"t":"2019-05-27T11:30Z","v":2.14},
      {"t":"2019-05-27T12:00Z","v":2.14},{"t":"2019-05-27T12:30Z","v":2.14},{"t":"2019-05-27T13:00Z","v":2.14},{"t":"2019-05-27T13:30Z","v":2.14},
      {"t":"2019-05-27T14:00Z","v":2.14},{"t":"2019-05-27T14:30Z","v":2.20},{"t":"2019-05-27T15:00Z","v":2.24},{"t":"2019-05-27T15:30Z","v":2.26},
      {"t":"2019-05-27T16:00Z","v":2.28},{"t":"2019-05-27T16:30Z","v":2.30},{"t":"2019-05-27T17:00Z","v":2.36},{"t":"2019-05-27T17:30Z","v":2.42},
      {"t":"2019-05-27T18:00Z","v":2.50},{"t":"2019-05-27T18:30Z","v":2.60},{"t":"2019-05-27T19:00Z","v":2.68},{"t":"2019-05-27T19:30Z","v":2.76},
      {"t":"2019-05-27T20:00Z","v":2.83},{"t":"2019-05-27T20:30Z","v":2.88},{"t":"2019-05-27T21:00Z","v":2.93},{"t":"2019-05-27T21:30Z","v":2.92},
      {"t":"2019-05-27T22:00Z","v":2.84},{"t":"2019-05-27T22:30Z","v":2.74},{"t":"2019-05-27T23:00Z","v":2.68},{"t":"2019-05-27T23:30Z","v":2.64},
      {"t":"2019-05-28T00:00Z","v":2.60},{"t":"2019-05-28T00:30Z","v":2.58},{"t":"2019-05-28T01:00Z","v":2.60},{"t":"2019-05-28T01:30Z","v":2.62},
      {"t":"2019-05-28T02:00Z","v":2.62},{"t":"2019-05-28T02:30Z","v":2.62},{"t":"2019-05-28T03:00Z","v":2.62},{"t":"2019-05-28T03:30Z","v":2.62},
      {"t":"2019-05-28T04:00Z","v":2.62},{"t":"2019-05-28T04:30Z","v":2.62},{"t":"2019-05-28T05:00Z","v":2.62},{"t":"2019-05-28T05:30Z","v":2.62},
      {"t":"2019-05-28T06:00Z","v":2.62},{"t":"2019-05-28T06:30Z","v":2.62},{"t":"2019-05-28T07:00Z","v":2.62},{"t":"2019-05-28T07:30Z","v":2.62},
      {"t":"2019-05-28T08:00Z","v":2.62},{"t":"2019-05-28T08:30Z","v":2.62},{"t":"2019-05-28T09:00Z","v":2.62},{"t":"2019-05-28T09:30Z","v":2.62},
      {"t":"2019-05-28T10:00Z","v":2.70},{"t":"2019-05-28T10:30Z","v":2.76},{"t":"2019-05-28T11:00Z","v":2.78},{"t":"2019-05-28T11:30Z","v":2.81},
      {"t":"2019-05-28T12:00Z","v":2.81},{"t":"2019-05-28T12:30Z","v":2.81},{"t":"2019-05-28T13:00Z","v":2.81},{"t":"2019-05-28T13:30Z","v":2.81},
      {"t":"2019-05-28T14:00Z","v":2.81},{"t":"2019-05-28T14:30Z","v":2.81},{"t":"2019-05-28T15:00Z","v":2.81},{"t":"2019-05-28T15:30Z","v":2.81},
      {"t":"2019-05-28T16:00Z","v":2.81},{"t":"2019-05-28T16:30Z","v":2.81},{"t":"2019-05-28T17:00Z","v":2.81},{"t":"2019-05-28T17:30Z","v":2.81},
      {"t":"2019-05-28T18:00Z","v":2.76},{"t":"2019-05-28T18:30Z","v":2.64},{"t":"2019-05-28T19:00Z","v":2.78},{"t":"2019-05-28T19:30Z","v":2.83},
      {"t":"2019-05-28T20:00Z","v":2.84},{"t":"2019-05-28T20:30Z","v":2.86},{"t":"2019-05-28T21:00Z","v":2.87},{"t":"2019-05-28T21:30Z","v":3.10},
      {"t":"2019-05-28T22:00Z","v":3.18},{"t":"2019-05-28T22:30Z","v":3.18},{"t":"2019-05-28T23:00Z","v":3.18},{"t":"2019-05-28T23:30Z","v":3.18},
      {"t":"2019-05-29T00:00Z","v":3.18},{"t":"2019-05-29T00:30Z","v":3.18},{"t":"2019-05-29T01:00Z","v":3.18},{"t":"2019-05-29T01:30Z","v":3.12},
      {"t":"2019-05-29T02:00Z","v":3.05},{"t":"2019-05-29T02:30Z","v":3.05},{"t":"2019-05-29T03:00Z","v":3.05},{"t":"2019-05-29T03:30Z","v":3.05},
      {"t":"2019-05-29T04:00Z","v":3.05},{"t":"2019-05-29T04:30Z","v":3.05},{"t":"2019-05-29T05:00Z","v":3.05},{"t":"2019-05-29T05:30Z","v":3.05},
      {"t":"2019-05-29T06:00Z","v":3.05},{"t":"2019-05-29T06:30Z","v":3.06},{"t":"2019-05-29T07:00Z","v":3.08},{"t":"2019-05-29T07:30Z","v":3.08},
      {"t":"2019-05-29T08:00Z","v":3.08},{"t":"2019-05-29T08:30Z","v":3.08},{"t":"2019-05-29T09:00Z","v":3.08},{"t":"2019-05-29T09:30Z","v":2.83},
      {"t":"2019-05-29T10:00Z","v":2.84},{"t":"2019-05-29T10:30Z","v":2.84},{"t":"2019-05-29T11:00Z","v":2.84},{"t":"2019-05-29T11:30Z","v":2.84},
      {"t":"2019-05-29T12:00Z","v":2.84},{"t":"2019-05-29T12:30Z","v":2.84},{"t":"2019-05-29T13:00Z","v":2.84},{"t":"2019-05-29T13:30Z","v":2.84},
      {"t":"2019-05-29T14:00Z","v":2.84},{"t":"2019-05-29T14:30Z","v":2.84},{"t":"2019-05-29T15:00Z","v":3.00},{"t":"2019-05-29T15:30Z","v":3.12},
      {"t":"2019-05-29T16:00Z","v":3.16},{"t":"2019-05-29T16:30Z","v":3.16},{"t":"2019-05-29T17:00Z","v":3.16},{"t":"2019-05-29T17:30Z","v":3.16},
      {"t":"2019-05-29T18:00Z","v":3.10},{"t":"2019-05-29T18:30Z","v":3.06},{"t":"2019-05-29T19:00Z","v":2.92},{"t":"2019-05-29T19:30Z","v":2.78},
      {"t":"2019-05-29T20:00Z","v":2.70},{"t":"2019-05-29T20:30Z","v":2.64},{"t":"2019-05-29T21:00Z","v":2.62},{"t":"2019-05-29T21:30Z","v":2.62},
      {"t":"2019-05-29T22:00Z","v":2.62},{"t":"2019-05-29T22:30Z","v":2.62},{"t":"2019-05-29T23:00Z","v":2.62},{"t":"2019-05-29T23:30Z","v":2.62},
      {"t":"2019-05-30T00:00Z","v":2.55},{"t":"2019-05-30T00:30Z","v":2.49},{"t":"2019-05-30T01:00Z","v":2.49},{"t":"2019-05-30T01:30Z","v":2.49},
      {"t":"2019-05-30T02:00Z","v":2.49},{"t":"2019-05-30T02:30Z","v":2.49},{"t":"2019-05-30T03:00Z","v":2.52},{"t":"2019-05-30T03:30Z","v":2.55},
      {"t":"2019-05-30T04:00Z","v":2.58},{"t":"2019-05-30T04:30Z","v":2.58},{"t":"2019-05-30T05:00Z","v":2.58},{"t":"2019-05-30T05:30Z","v":2.58},
      {"t":"2019-05-30T06:00Z","v":2.58},{"t":"2019-05-30T06:30Z","v":2.65},{"t":"2019-05-30T07:00Z","v":2.72},{"t":"2019-05-30T07:30Z","v":2.78},
      {"t":"2019-05-30T08:00Z","v":2.83},{"t":"2019-05-30T08:30Z","v":2.83},{"t":"2019-05-30T09:00Z","v":2.83},{"t":"2019-05-30T09:30Z","v":2.83},
      {"t":"2019-05-30T10:00Z","v":2.83},{"t":"2019-05-30T10:30Z","v":2.83},{"t":"2019-05-30T11:00Z","v":2.83},{"t":"2019-05-30T11:30Z","v":2.83},
      {"t":"2019-05-30T12:00Z","v":2.88},{"t":"2019-05-30T12:30Z","v":2.88},{"t":"2019-05-30T13:00Z","v":2.88},{"t":"2019-05-30T13:30Z","v":2.88},
      {"t":"2019-05-30T14:00Z","v":2.88},{"t":"2019-05-30T14:30Z","v":2.88},{"t":"2019-05-30T15:00Z","v":2.88},{"t":"2019-05-30T15:30Z","v":2.88},
      {"t":"2019-05-30T16:00Z","v":2.80},{"t":"2019-05-30T16:30Z","v":2.71},{"t":"2019-05-30T17:00Z","v":2.71},{"t":"2019-05-30T17:30Z","v":2.71},
      {"t":"2019-05-30T18:00Z","v":2.71},{"t":"2019-05-30T18:30Z","v":2.75},{"t":"2019-05-30T19:00Z","v":2.83},{"t":"2019-05-30T19:30Z","v":2.95},
      {"t":"2019-05-30T20:00Z","v":3.06},{"t":"2019-05-30T20:30Z","v":3.06},{"t":"2019-05-30T21:00Z","v":3.06},{"t":"2019-05-30T21:30Z","v":3.06},
      {"t":"2019-05-30T22:00Z","v":3.06},{"t":"2019-05-30T22:30Z","v":3.06},{"t":"2019-05-30T23:00Z","v":3.06},{"t":"2019-05-30T23:30Z","v":3.06},
      {"t":"2019-05-31T00:00Z","v":3.30},{"t":"2019-05-31T00:30Z","v":3.45},{"t":"2019-05-31T01:00Z","v":3.45},{"t":"2019-05-31T01:30Z","v":3.45},
      {"t":"2019-05-31T02:00Z","v":3.45},{"t":"2019-05-31T02:30Z","v":3.45},{"t":"2019-05-31T03:00Z","v":3.45},{"t":"2019-05-31T03:30Z","v":3.45},
      {"t":"2019-05-31T04:00Z","v":3.45},{"t":"2019-05-31T04:30Z","v":3.45},{"t":"2019-05-31T05:00Z","v":3.45},{"t":"2019-05-31T05:30Z","v":3.45},
      {"t":"2019-05-31T06:00Z","v":3.45},{"t":"2019-05-31T06:30Z","v":3.40},{"t":"2019-05-31T07:00Z","v":3.32},{"t":"2019-05-31T07:30Z","v":3.20},
      {"t":"2019-05-31T08:00Z","v":3.13},{"t":"2019-05-31T08:30Z","v":3.13},{"t":"2019-05-31T09:00Z","v":3.13},{"t":"2019-05-31T09:30Z","v":3.13},
      {"t":"2019-05-31T10:00Z","v":3.13},{"t":"2019-05-31T10:30Z","v":3.13},{"t":"2019-05-31T11:00Z","v":3.13},{"t":"2019-05-31T11:30Z","v":3.13},
      {"t":"2019-05-31T12:00Z","v":3.13},{"t":"2019-05-31T12:30Z","v":3.13},{"t":"2019-05-31T13:00Z","v":3.13},{"t":"2019-05-31T13:30Z","v":3.13},
      {"t":"2019-05-31T14:00Z","v":3.17},{"t":"2019-05-31T14:30Z","v":3.17},{"t":"2019-05-31T15:00Z","v":3.17},{"t":"2019-05-31T15:30Z","v":3.17},
      {"t":"2019-05-31T16:00Z","v":3.17},{"t":"2019-05-31T16:30Z","v":3.12},{"t":"2019-05-31T17:00Z","v":3.05},{"t":"2019-05-31T17:30Z","v":3.00},
      {"t":"2019-05-31T18:00Z","v":2.90},{"t":"2019-05-31T18:30Z","v":2.78},{"t":"2019-05-31T19:00Z","v":2.68},{"t":"2019-05-31T19:30Z","v":2.60},
      {"t":"2019-05-31T20:00Z","v":2.60},{"t":"2019-05-31T20:30Z","v":2.60},{"t":"2019-05-31T21:00Z","v":2.60},{"t":"2019-05-31T21:30Z","v":2.60},
      {"t":"2019-05-31T22:00Z","v":2.58},{"t":"2019-05-31T22:30Z","v":2.50},{"t":"2019-05-31T23:00Z","v":2.42},{"t":"2019-05-31T23:30Z","v":2.30},
      {"t":"2019-06-01T00:00Z","v":2.22},{"t":"2019-06-01T00:30Z","v":2.15},{"t":"2019-06-01T01:00Z","v":2.15},{"t":"2019-06-01T01:30Z","v":2.15},
      {"t":"2019-06-01T02:00Z","v":2.15},{"t":"2019-06-01T02:30Z","v":2.15},{"t":"2019-06-01T03:00Z","v":2.15},{"t":"2019-06-01T03:30Z","v":2.15},
      {"t":"2019-06-01T04:00Z","v":2.15},{"t":"2019-06-01T04:30Z","v":2.07},{"t":"2019-06-01T05:00Z","v":2.07},{"t":"2019-06-01T05:30Z","v":2.07},
      {"t":"2019-06-01T06:00Z","v":2.07},{"t":"2019-06-01T06:30Z","v":2.07},{"t":"2019-06-01T07:00Z","v":2.01},{"t":"2019-06-01T07:30Z","v":1.95},
      {"t":"2019-06-01T08:00Z","v":1.95},{"t":"2019-06-01T08:30Z","v":1.95},{"t":"2019-06-01T09:00Z","v":1.95},{"t":"2019-06-01T09:30Z","v":1.95},
      {"t":"2019-06-01T10:00Z","v":1.95},{"t":"2019-06-01T10:30Z","v":1.95},{"t":"2019-06-01T11:00Z","v":1.95},{"t":"2019-06-01T11:30Z","v":1.88},
      {"t":"2019-06-01T12:00Z","v":1.88},{"t":"2019-06-01T12:30Z","v":1.88},{"t":"2019-06-01T13:00Z","v":1.88},{"t":"2019-06-01T13:30Z","v":1.88},
      {"t":"2019-06-01T14:00Z","v":1.83},{"t":"2019-06-01T14:30Z","v":1.83},{"t":"2019-06-01T15:00Z","v":1.83},{"t":"2019-06-01T15:30Z","v":1.83},
      {"t":"2019-06-01T16:00Z","v":1.74},{"t":"2019-06-01T16:30Z","v":1.74},{"t":"2019-06-01T17:00Z","v":1.76},{"t":"2019-06-01T17:30Z","v":1.76},
      {"t":"2019-06-01T18:00Z","v":1.76},{"t":"2019-06-01T18:30Z","v":1.70}
    ]
  },
  "encoding": {
    "x": {
      "field": "t",
      "type": "temporal",
      "scale": {
        "type": "utc",
        "domain": [
          {"year": 2019, "month": 5, "date": 25, "hours": 18, "minutes": 48, "utc": true},
          {"year": 2019, "month": 6, "date": 1, "hours": 19, "minutes": 0, "utc": true}
        ]
      },
      "axis": {
        "title": null,
        "values": [
          {"year": 2019, "month": 5, "date": 26, "utc": true},
          {"year": 2019, "month": 5, "date": 27, "utc": true},
          {"year": 2019, "month": 5, "date": 28, "utc": true},
          {"year": 2019, "month": 5, "date": 29, "utc": true},
          {"year": 2019, "month": 5, "date": 30, "utc": true},
          {"year": 2019, "month": 5, "date": 31, "utc": true},
          {"year": 2019, "month": 6, "date": 1, "utc": true}
        ],
        "labelExpr": "utcFormat(datum.value, '%-d. %b')",
        "grid": false,
        "domainColor": "#ccd6eb",
        "tickColor": "#ccd6eb",
        "tickSize": 11,
        "labelPadding": 3,
        "labelFontSize": 14,
        "labelFont": "DejaVu Sans",
        "labelColor": "#555555",
        "labelFlush": false,
        "labelOverlap": false,
        "zindex": 1
      }
    }
  },
  "layer": [
    {
      "data": {"name": "vol"},
      "mark": {"type": "bar", "size": 2.7, "color": "#6b6b6b"},
      "encoding": {
        "y": {
          "field": "v",
          "type": "quantitative",
          "scale": {"domain": [0, 4], "range": [519, 415], "nice": false},
          "axis": {
            "orient": "left",
            "offset": 3,
            "values": [0, 2],
            "labelExpr": "datum.value == 0 ? '0' : datum.value + 'B'",
            "grid": true,
            "gridColor": "#e6e6e6",
            "domain": true,
            "domainColor": "#ccd6eb",
            "ticks": false,
            "tickSize": 0,
            "labelPadding": 21,
            "labelOffset": -8,
            "labelFontSize": 14,
            "labelFont": "DejaVu Sans",
            "labelColor": "#555555",
            "title": "24h Vol",
            "titleFont": "DejaVu Sans",
            "titleFontSize": 15,
            "titleFontWeight": "bold",
            "titleColor": "#555555",
            "titleAngle": -90,
            "titleAlign": "center",
            "titleBaseline": "middle",
            "titleX": -56,
            "titleY": 467
          }
        }
      }
    },
    {
      "data": {"name": "px"},
      "mark": {"type": "line", "color": "#6aafe6", "strokeWidth": 2, "strokeJoin": "round"},
      "encoding": {
        "y": {
          "field": "mc",
          "type": "quantitative",
          "scale": {"domain": [15, 20], "range": [415, 0], "nice": false, "zero": false},
          "axis": {
            "orient": "left",
            "values": [15, 16, 17, 18, 19, 20],
            "labelExpr": "datum.value >= 20 ? '' : '$' + datum.value + 'B'",
            "grid": true,
            "gridColor": "#e6e6e6",
            "domain": false,
            "ticks": false,
            "tickSize": 0,
            "labelPadding": 21,
            "labelOffset": -8,
            "labelFontSize": 14,
            "labelFont": "DejaVu Sans",
            "labelColor": "#7cb5ec",
            "title": "Market Cap",
            "titleFont": "DejaVu Sans",
            "titleFontSize": 15,
            "titleFontWeight": "bold",
            "titleColor": "#7cb5ec",
            "titleAngle": -90,
            "titleAlign": "center",
            "titleBaseline": "middle",
            "titleX": -76,
            "titleY": 207.5
          }
        }
      }
    },
    {
      "data": {"name": "px"},
      "mark": {"type": "line", "color": "#2b8f5e", "strokeWidth": 2, "strokeJoin": "round"},
      "encoding": {
        "y": {
          "field": "usd",
          "type": "quantitative",
          "scale": {"domain": [0.32, 0.52], "range": [415, 0], "nice": false, "zero": false},
          "axis": {
            "orient": "right",
            "values": [0.32, 0.36, 0.40, 0.44, 0.48],
            "format": "$.6f",
            "grid": false,
            "domain": false,
            "ticks": false,
            "tickSize": 0,
            "labelPadding": 21.5,
            "labelOffset": -8,
            "labelFontSize": 14,
            "labelFont": "DejaVu Sans",
            "labelColor": "#1f9463",
            "title": "Price (USD)",
            "titleFont": "DejaVu Sans",
            "titleFontSize": 15,
            "titleFontWeight": "bold",
            "titleColor": "#1f9463",
            "titleAngle": 90,
            "titleAlign": "center",
            "titleBaseline": "middle",
            "titleX": 121,
            "titleY": 207.5
          }
        }
      }
    },
    {
      "data": {"name": "px"},
      "mark": {"type": "line", "color": "#f7a130", "strokeWidth": 2, "strokeJoin": "round"},
      "encoding": {
        "y": {
          "field": "btc",
          "type": "quantitative",
          "scale": {"domain": [0.000044, 0.000054], "range": [415, 0], "nice": false, "zero": false},
          "axis": {
            "orient": "right",
            "offset": 135,
            "values": [0.000044, 0.000046, 0.000048, 0.00005, 0.000052],
            "labelExpr": "format(datum.value, '.6~f') + ' BTC'",
            "grid": false,
            "domain": false,
            "ticks": false,
            "tickSize": 0,
            "labelPadding": 21.5,
            "labelOffset": -8,
            "labelFontSize": 14,
            "labelFont": "DejaVu Sans",
            "labelColor": "#f7a130",
            "title": "Price (BTC)",
            "titleFont": "DejaVu Sans",
            "titleFontSize": 15,
            "titleFontWeight": "bold",
            "titleColor": "#f7a130",
            "titleAngle": 90,
            "titleAlign": "center",
            "titleBaseline": "middle",
            "titleX": 144.5,
            "titleY": 207.5
          }
        }
      }
    }
  ],
  "resolve": {"scale": {"y": "independent"}, "axis": {"y": "independent"}}
}
